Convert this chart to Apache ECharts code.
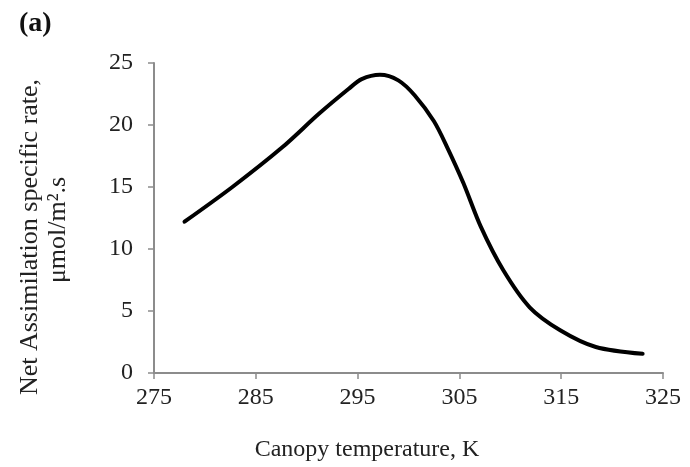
<!DOCTYPE html>
<html>
<head>
<meta charset="utf-8">
<script src="https://cdn.jsdelivr.net/npm/echarts@6/dist/echarts.min.js"></script>
<style>
  html, body { margin: 0; padding: 0; background: #fff; }
  #chart { width: 690px; height: 467px; }
</style>
</head>
<body>
<div id="chart"></div>
<script>
// canopy temperature (K) and net assimilation rate
const temps = [278, 282.7, 287.6, 291.2, 294.1, 295.4, 297.2, 299, 300.6, 302.5, 303.8, 305.4, 307.1, 309.3, 311.9, 314.9, 318.4, 323];
const rates = [12.2, 15.0, 18.2, 20.9, 22.9, 23.7, 24.05, 23.6, 22.4, 20.3, 18.2, 15.3, 11.8, 8.3, 5.3, 3.45, 2.1, 1.55];

const xTicks = [275, 285, 295, 305, 315, 325];
const xTitle = 'Canopy temperature, K';
const yTitle = ['Net Assimilation specific rate,', 'μmol/m².s'];

const chart = echarts.init(document.getElementById('chart'), null, { renderer: 'canvas' });

const serif = 'Liberation Serif';
const axisGrey = '#8c8c8c';
const textCol = '#222';

const option = {
    animation: false,
    title: {
        text: '(a)',
        left: 14,
        top: 5,
        textStyle: { fontFamily: serif, fontWeight: 'bold', fontSize: 28, color: '#111' }
    },
    // axis titles placed by hand, the original does not center them on the plot
    graphic: [
        {
            type: 'text', x: 30, y: 237, rotation: Math.PI / 2,
            style: { text: yTitle[0], font: '26px "Liberation Serif"', fill: textCol, align: 'center', verticalAlign: 'middle' }
        },
        {
            type: 'text', x: 58, y: 230, rotation: Math.PI / 2,
            style: { text: yTitle[1], font: '26px "Liberation Serif"', fill: textCol, align: 'center', verticalAlign: 'middle' }
        },
        {
            type: 'text', x: 367, y: 450,
            style: { text: xTitle, font: '24px "Liberation Serif"', fill: textCol, align: 'center', verticalAlign: 'middle' }
        }
    ],
    grid: { left: 154, right: 27, top: 63, bottom: 94 },
    xAxis: {
        type: 'value',
        min: 275,
        max: 325,
        interval: 10,
        axisLine: { show: true, lineStyle: { color: axisGrey, width: 2 } },
        axisTick: { show: true, length: 6, lineStyle: { color: axisGrey, width: 1.5 } },
        axisLabel: {
            fontFamily: serif, fontSize: 24, color: textCol, margin: 13,
            formatter: v => xTicks.includes(v) ? String(v) : ''
        },
        splitLine: { show: false }
    },
    yAxis: {
        type: 'value',
        min: 0,
        max: 25,
        interval: 5,
        axisLine: { show: true, lineStyle: { color: axisGrey, width: 2 } },
        axisTick: { show: true, length: 6, lineStyle: { color: axisGrey, width: 1.5 } },
        axisLabel: { fontFamily: serif, fontSize: 24, color: textCol, margin: 21 },
        splitLine: { show: false }
    },
    series: [{
        type: 'line',
        data: temps.map((t, i) => [t, rates[i]]),
        smooth: 0.3,
        showSymbol: false,
        lineStyle: { color: '#000', width: 4, cap: 'round' }
    }]
};

chart.setOption(option);
</script>
</body>
</html>
